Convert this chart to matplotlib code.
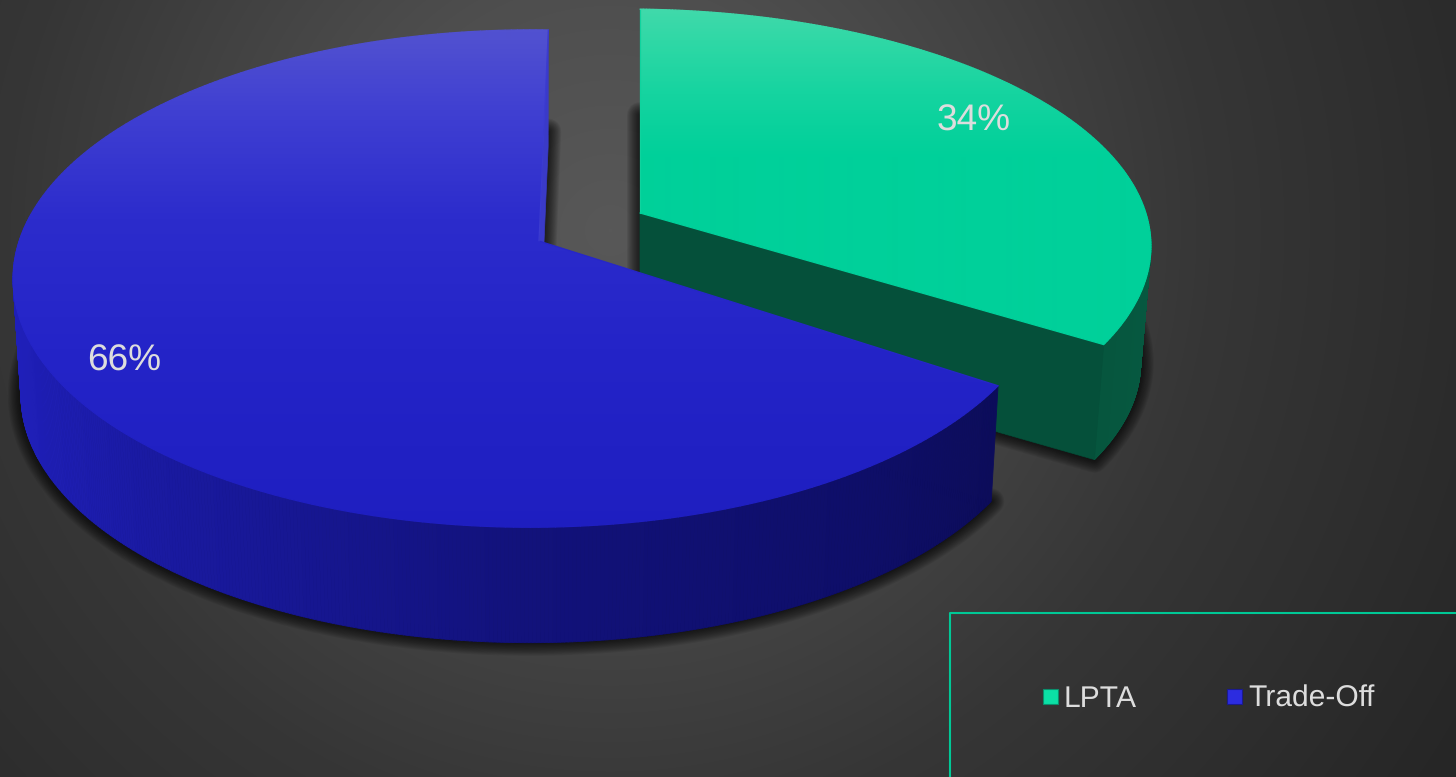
import numpy as np
import matplotlib
matplotlib.use("Agg")
import matplotlib.pyplot as plt
from matplotlib.collections import LineCollection, PolyCollection
from matplotlib.colors import LinearSegmentedColormap
from matplotlib.patches import Polygon, Rectangle

plt.rcParams["font.family"] = ["Liberation Sans", "DejaVu Sans"]
plt.rcParams["text.hinting"] = "no_hinting"
plt.rcParams["text.hinting_factor"] = 1

categories = ["LPTA", "Trade-Off"]
shares = [34, 66]

W, H = 1456, 777
TEXT = "#DDDDDD"
KEY = "#00C896"


# projection of one slice: apex on screen, radii, perspective terms, wall depth
GREEN = dict(apex=(640, 213), a=521, b=233, k=0.143, m=0.03, depth=117, sx=0.98, sy=0.985, turn=0.0)
BLUE = dict(apex=(539, 241), a=512, b=243, k=0.151, m=0.015, depth=116, sx=0.985, sy=0.998, turn=1.2)


def project(g, theta, r=1.0, bottom=False):
    # theta in degrees, clockwise from the top of the pie
    t = np.radians(np.asarray(theta, dtype=float) + g["turn"])
    u, v = r * np.sin(t), r * np.cos(t)
    d = 1 + g["k"] * v + g["m"] * u
    dx, dy = g["a"] * u / d, -g["b"] * v / d
    if bottom:
        return g["apex"][0] + g["sx"] * dx, g["apex"][1] + g["depth"] + g["sy"] * dy
    return g["apex"][0] + dx, g["apex"][1] + dy


def outline(g, t0, t1, bottom=False):
    th = np.linspace(t0, t1, 300)
    x, y = project(g, th, bottom=bottom)
    ax0, ay0 = project(g, 0, r=0, bottom=bottom)
    return np.vstack([[ax0, ay0], np.c_[x, y]])


def cmap(*stops):
    return LinearSegmentedColormap.from_list("c", [(p, c) for p, c in stops], N=512)


def fill_gradient(ax, verts, cm, zorder):
    patch = Polygon(verts, closed=True, fc="none", ec="none", zorder=zorder)
    ax.add_patch(patch)
    grad = np.linspace(0, 1, H).reshape(-1, 1)
    im = ax.imshow(grad, extent=(0, W, H, 0), cmap=cm, vmin=0, vmax=1, aspect="auto", zorder=zorder, interpolation="bilinear")
    im.set_clip_path(patch)
    # image clipping is jagged, a thin stroke of the same colours smooths the edge
    pts = np.vstack([verts, verts[:1]])
    segs = np.stack([pts[:-1], pts[1:]], axis=1)
    cols = cm(segs[:, :, 1].mean(axis=1) / H)
    ax.add_collection(LineCollection(segs, colors=cols, linewidths=0.9, zorder=zorder, capstyle="round"))


def add_shadow(ax, verts, apex_y):
    # the cut edges throw their shadow a bit higher than the wall foot
    pts = verts.copy()
    up = pts[:, 1] < apex_y
    pts[up, 1] = apex_y + (pts[up, 1] - apex_y) * 1.07
    for lw in np.linspace(26, 2, 12):
        ax.add_patch(Polygon(pts, closed=True, fc="black", ec="black", lw=lw * 0.72, alpha=0.075,
                             joinstyle="round", zorder=1))


def add_rim(ax, g, t0, t1, cm, zorder):
    th = np.linspace(t0, t1, 400)
    xt, yt = project(g, th)
    xb, yb = project(g, th, bottom=True)
    quads, cols = [], []
    for i in range(len(th) - 1):
        quads.append([(xt[i], yt[i]), (xt[i + 1], yt[i + 1]), (xb[i + 1], yb[i + 1]), (xb[i], yb[i])])
        cols.append(cm(((xt[i] + xb[i]) / 2) / W))
    ax.add_collection(PolyCollection(quads, facecolors=cols, edgecolors=cols, linewidths=0.6, zorder=zorder))


fig = plt.figure(figsize=(W / 100, H / 100), dpi=100)
ax = fig.add_axes([0, 0, 1, 1])

# radial background
yy, xx = np.mgrid[0:H, 0:W]
dist = np.hypot(xx - 610, yy - 230) / 1000
bg_cm = cmap((0, "#585858"), (0.25, "#4e4e4e"), (0.6, "#363636"), (1, "#262626"))
ax.imshow(dist, extent=(0, W, H, 0), cmap=bg_cm, vmin=0, vmax=1, aspect="auto", zorder=0)

split = shares[0] / sum(shares) * 360

add_shadow(ax, outline(GREEN, 0, split, bottom=True), GREEN["apex"][1] + GREEN["depth"])
add_shadow(ax, outline(BLUE, split, 360, bottom=True), BLUE["apex"][1] + BLUE["depth"])

# green slice, it sits behind the blue one
green_wall = cmap((0, "#04523a"), (0.7, "#04503a"), (0.8, "#075a41"), (1, "#075a41"))
add_rim(ax, GREEN, 85, split, green_wall, 2)
gx, gy = project(GREEN, split)
gxb, gyb = project(GREEN, split, bottom=True)
apx, apy = project(GREEN, 0, r=0)
apxb, apyb = project(GREEN, 0, r=0, bottom=True)
ax.add_patch(Polygon([(apx, apy), (gx, gy), (gxb, gyb), (apxb, apyb)], closed=True, fc="#05503a", ec="#05503a", lw=0.5, zorder=3))
green_top = cmap((0, "#45DAAC"), (0.05, "#30D8A6"), (0.12, "#15D4A0"), (0.2, "#00D09A"), (1, "#00D09A"))
fill_gradient(ax, outline(GREEN, 0, split), green_top, 4)

# blue slice
blue_wall = cmap((0, "#2020BC"), (0.1, "#1A1AA2"), (0.35, "#12127C"), (0.6, "#0E0E68"), (0.7, "#0C0C58"), (1, "#0C0C58"))
add_rim(ax, BLUE, split, 275, blue_wall, 5)
bx, by = project(BLUE, 360)
bxb, byb = project(BLUE, 360, bottom=True)
apx, apy = project(BLUE, 0, r=0)
apxb, apyb = project(BLUE, 0, r=0, bottom=True)
ax.add_patch(Polygon([(apx, apy), (bx, by), (bxb, byb), (apxb, apyb)], closed=True, fc="#3A3AC8", ec="#3A3AC8", lw=0.5, zorder=6))
blue_top = cmap((0, "#5555D0"), (0.05, "#5050D0"), (0.14, "#4040D2"), (0.28, "#2C2CCC"), (0.45, "#2424C8"), (0.7, "#1E1EC0"), (1, "#1E1EC0"))
fill_gradient(ax, outline(BLUE, split, 360), blue_top, 7)

# percentage labels
label_pos = [(974, 121), (124, 361)]
for share, (lx, ly) in zip(shares, label_pos):
    ax.text(lx, ly, f"{share}%", color=TEXT, fontsize=26.8, ha="center", va="center", zorder=8)

# legend box, runs off the right and bottom edges
ax.plot([950, 950, W + 5], [H + 5, 613, 613], color=KEY, lw=1.5, zorder=8)
key_faces = ["#0BE0A6", "#2C2CE0"]
key_edges = ["#0A8F6C", "#1A1A90"]
key_x = [1043, 1227]
for name, fc, ec, kx in zip(categories, key_faces, key_edges, key_x):
    ax.add_patch(Rectangle((kx, 689), 15, 15, fc=fc, ec=ec, lw=0.8, zorder=8))
    ax.text(kx + 21, 707, name, color=TEXT, fontsize=21.7, ha="left", va="baseline", zorder=8)

ax.set_xlim(0, W)
ax.set_ylim(H, 0)
ax.axis("off")
fig.savefig("out.png", dpi=100)
